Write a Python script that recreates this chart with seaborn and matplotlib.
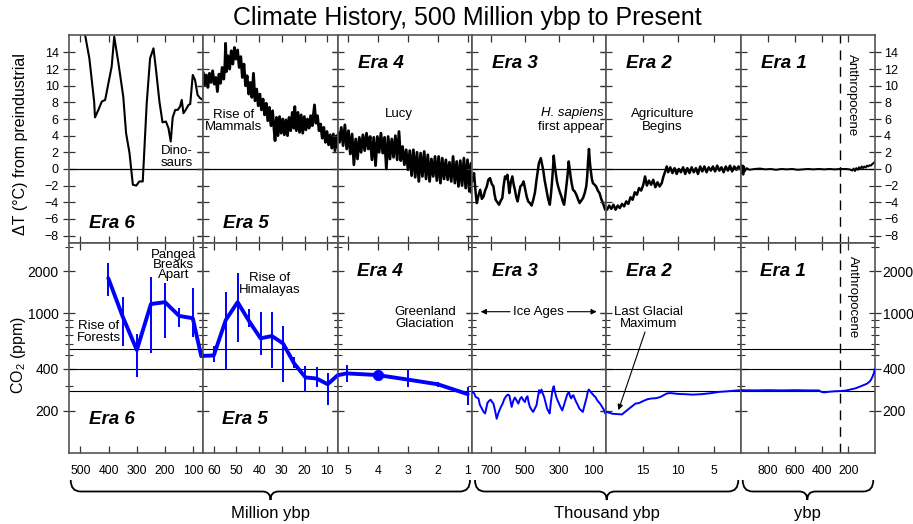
import numpy as np
import pandas as pd
import matplotlib
matplotlib.use("Agg")
import matplotlib.pyplot as plt
import seaborn as sns
from matplotlib.path import Path
from matplotlib.patches import PathPatch
from matplotlib.ticker import NullFormatter

# ---------------------------
# Temperature (deg C from preindustrial), one series per era
# ---------------------------
era6_t_x = [495, 483, 468, 451, 448, 436, 424, 412, 404, 389, 380, 365, 348, 338, 326, 314, 302, 291,
            279, 265, 253, 241, 232, 220, 209, 197, 188, 180, 173, 164, 155, 147, 141, 135, 127, 117,
            111, 102, 94, 85, 76, 66]
era6_t_y = [17.0, 16.1, 13.3, 8.1, 6.2, 7.1, 8.1, 8.3, 9.7, 12.3, 15.9, 12.7, 8.7, 4.3, 1.95, -1.9, -2.0,
            -1.5, -1.5, 7.9, 13.3, 14.5, 11.9, 8.1, 5.6, 5.7, 4.9, 3.3, 6.2, 7.1, 7.1, 7.5, 8.3, 6.7,
            7.1, 7.7, 7.8, 11.3, 10.7, 8.9, 8.5, 8.3]

era5_t_x = [64.6, 64.0, 63.3, 62.6, 61.9, 61.2, 60.5, 59.8, 59.1, 58.4, 57.7, 57.0, 56.3, 55.6, 55.1,
            54.8, 54.4, 53.7, 53.0, 52.3, 51.6, 50.9, 50.2, 49.5, 48.8, 48.1, 47.4, 46.7, 46.0, 45.3,
            44.6, 43.9, 43.2, 42.5, 41.8, 41.1, 40.4, 39.7, 39.0, 38.3, 37.6, 36.9, 36.2, 35.5, 34.8,
            34.1, 33.4, 33.0, 32.4, 31.7, 31.0, 30.3, 29.6, 28.9, 28.2, 27.5, 26.8, 26.1, 25.4, 24.7,
            24.3, 23.6, 22.9, 22.2, 21.5, 20.8, 20.1, 19.4, 18.7, 18.0, 17.3, 16.6, 15.9, 15.6, 15.0,
            14.3, 13.6, 12.9, 12.2, 11.5, 10.8, 10.1, 9.4, 8.7, 8.0, 7.3, 6.6, 5.9, 5.5]
era5_t_y = [11.6, 10.1, 11.3, 9.8, 11.5, 10.4, 11.8, 10.2, 11.0, 9.3, 11.4, 10.3, 12.2, 10.8, 12.5,
            15.1, 11.7, 13.6, 12.0, 14.2, 12.6, 14.6, 13.2, 14.3, 12.2, 13.5, 11.0, 12.6, 10.0, 11.2,
            9.0, 10.4, 8.6, 11.5, 8.2, 9.6, 7.6, 9.0, 7.1, 8.4, 6.5, 7.9, 5.8, 7.4, 5.2,
            7.0, 4.6, 3.4, 6.2, 4.0, 6.3, 4.3, 6.0, 4.1, 5.9, 4.0, 6.2, 4.6, 6.8, 4.9,
            7.5, 4.6, 6.8, 4.4, 6.5, 4.3, 6.3, 4.7, 6.0, 4.9, 6.4, 5.2, 7.0, 7.7, 5.5,
            6.4, 4.6, 5.4, 3.7, 5.0, 3.2, 4.5, 2.9, 4.1, 2.5, 4.2, 2.2, 4.0, 2.6]

era4_t_x = [5.33, 5.27, 5.21, 5.15, 5.09, 5.03, 4.97, 4.91, 4.85, 4.79, 4.73, 4.67, 4.61, 4.55, 4.49,
            4.43, 4.37, 4.31, 4.25, 4.19, 4.13, 4.07, 4.01, 3.95, 3.89, 3.83, 3.77, 3.71, 3.65, 3.59,
            3.53, 3.47, 3.41, 3.35, 3.29, 3.23, 3.17, 3.11, 3.05, 2.99, 2.93, 2.87, 2.81, 2.75, 2.69,
            2.63, 2.57, 2.51, 2.45, 2.39, 2.33, 2.27, 2.21, 2.15, 2.09, 2.03, 1.97, 1.91, 1.85, 1.79,
            1.73, 1.67, 1.61, 1.55, 1.49, 1.43, 1.37, 1.31, 1.25, 1.19, 1.13, 1.07, 1.01, 0.95, 0.89, 0.87]
era4_t_y = [4.5, 3.2, 5.0, 2.8, 5.3, 2.4, 4.6, 1.8, 4.2, 0.5, 3.6, 1.2, 3.8, 2.0, 4.1,
            2.2, 4.3, 2.4, 3.9, 1.1, 3.8, 0.4, 3.9, 2.0, 4.3, 1.9, 3.8, 0.0, 3.9, 1.2,
            3.6, 1.4, 4.0, 1.1, 4.5, 1.0, 2.7, 0.5, 2.3, -0.1, 2.2, -0.8, 2.3, -1.0, 2.0,
            -1.5, 1.9, -0.9, 2.1, -1.2, 1.7, -1.5, 1.2, -0.9, 1.5, -1.4, 1.5, -1.7, 1.3, -1.2,
            1.1, -1.3, 0.8, -1.5, 1.5, -1.7, 0.9, -2.1, 1.0, -2.0, 1.3, -2.3, 1.1, -2.7, 0.7, -2.9]

era3_t_x = [810, 800, 790, 784, 774, 764, 754, 744, 735, 725, 716, 706, 696, 686, 680, 673, 663, 653,
            643, 634, 626, 618, 611, 604, 598, 593, 584, 575, 567, 560, 552, 544, 536, 528, 518, 509,
            500, 491, 482, 472, 462, 452, 442, 433, 426, 419, 408, 401, 394, 385, 375, 365, 355, 348,
            341, 336, 332, 326, 320, 313, 306, 296, 287, 279, 271, 264, 258, 251, 244, 238, 233, 226,
            219, 209, 199, 190, 180, 170, 160, 150, 141, 135, 131, 125, 120, 115, 108, 102, 92, 83,
            73, 63, 53, 43, 36, 30, 24]
era3_t_y = [-1.5, -0.5, -3.0, -4.1, -3.2, -2.5, -3.6, -3.3, -2.6, -2.1, -1.3, -1.1, -1.8, -2.1, -3.0,
            -3.7, -4.0, -4.3, -3.8, -3.5, -2.0, -0.9, -1.2, -0.7, -1.8, -2.9, -1.6, -0.9, -1.9, -2.5,
            -3.4, -3.9, -3.0, -2.1, -1.9, -1.5, -2.4, -3.3, -3.9, -4.1, -4.4, -3.7, -2.8, -1.3, -0.3,
            0.7, 1.3, 0.6, -0.1, -1.4, -2.5, -3.6, -4.3, -3.0, -1.3, 0.2, 1.6, 0.4, -0.5, -1.5, -2.1,
            -2.8, -3.3, -3.9, -4.3, -3.2, -2.1, -0.8, 0.9, 0.0, -0.9, -1.8, -2.5, -2.7, -3.1, -3.6,
            -4.1, -3.8, -3.5, -2.9, -2.1, -0.8, 0.7, 2.4, 0.9, -0.1, -1.2, -1.7, -1.9, -2.1, -2.6,
            -2.9, -3.6, -4.1, -4.5, -4.9, -4.6]

era2_t_x = [20.0, 19.7, 19.4, 19.1, 18.8, 18.5, 18.2, 17.9, 17.6, 17.3, 17.0, 16.7, 16.4, 16.1, 15.8,
            15.5, 15.2, 14.9, 14.65, 14.4, 14.1, 13.8, 13.5, 13.2, 12.9, 12.6, 12.3, 12.1, 11.9, 11.6,
            11.4, 11.1, 10.8, 10.5, 10.2, 9.9, 9.6, 9.3, 9.0, 8.7, 8.4, 8.1, 7.8, 7.5, 7.2, 6.9, 6.6,
            6.3, 6.0, 5.7, 5.4, 5.1, 4.8, 4.5, 4.2, 3.9, 3.6, 3.3, 3.0, 2.7, 2.4, 2.1, 1.8, 1.5, 1.2]
era2_t_y = [-4.9, -4.4, -4.8, -4.3, -4.9, -4.4, -4.7, -4.2, -4.5, -3.9, -4.2, -3.4, -3.7, -2.8, -3.1,
            -2.3, -2.6, -1.9, -0.9, -2.0, -1.4, -1.9, -1.3, -2.2, -1.6, -2.1, -1.7, -1.0, -0.5, 0.3,
            -0.4, 0.2, -0.5, 0.1, -0.6, 0.0, -0.4, 0.2, -0.6, 0.1, -0.5, 0.2, -0.4, 0.1, -0.6, 0.3, -0.3,
            0.3, -0.4, 0.2, -0.2, 0.3, -0.3, 0.4, -0.2, 0.2, -0.4, 0.3, -0.2, 0.4, -0.3, 0.3, -0.1, 0.3, 0.0]

era1_t_x = [1000, 995, 990, 985, 980, 975, 960, 940, 900, 860, 820, 780, 740, 700, 660, 620, 580, 540,
            500, 460, 420, 380, 340, 300, 260, 220, 190, 170, 160, 150, 140, 130, 120, 110, 100, 90,
            80, 70, 60, 50, 40, 30, 20, 10, 0]
era1_t_y = [0.5, -0.6, 0.4, -0.7, 0.3, -0.3, 0.1, -0.1, 0.0, 0.05, -0.05, 0.0, -0.1, 0.0, -0.05, 0.0,
            -0.1, -0.05, 0.0, -0.05, 0.0, -0.05, 0.0, -0.05, 0.0, 0.0, -0.05, -0.2, 0.05, -0.25, 0.1,
            -0.1, 0.2, 0.0, 0.3, 0.1, 0.3, 0.15, 0.4, 0.3, 0.45, 0.4, 0.6, 0.7, 0.9]

# ---------------------------
# CO2 (ppm)
# ---------------------------
era6_co2_x = [401, 350, 300, 250, 200, 150, 102, 72, 64.6]
era6_co2_y = [1790, 950, 547, 1170, 1205, 960, 925, 495, 497]
era6_err_x = [401, 350, 300, 250, 200, 150, 102]
era6_err_lo = [1336, 584, 351, 523, 663, 796, 681]
era6_err_hi = [2296, 1321, 710, 1824, 1667, 1091, 1535]

era5_co2_x = [64.6, 60.0, 54.7, 49.5, 44.3, 39.4, 34.4, 29.5, 24.6, 19.6, 14.7, 9.8, 5.4]
era5_co2_y = [497, 500, 899, 1205, 874, 664, 689, 611, 439, 348, 342, 311, 361]
era5_err_x = [60.0, 54.7, 49.5, 44.3, 39.4, 34.4, 29.5, 24.6, 19.6, 14.7, 9.8]
era5_err_lo = [451, 392, 627, 795, 503, 404, 323, 404, 274, 298, 220]
era5_err_hi = [584, 1435, 1950, 1083, 1030, 1030, 813, 489, 419, 415, 372]

era4_co2_x = [5.33, 5.03, 4.0, 3.0, 2.0, 1.0]
era4_co2_y = [361, 372, 362, 336, 311, 264]
era4_err_x = [5.03, 3.0, 2.0, 1.0]
era4_err_lo = [323, 298, 298, 220]
era4_err_hi = [427, 392, 324, 298]
era4_dot_x = [4.0]
era4_dot_y = [362]

era3_co2_x = [810, 799, 790, 774, 766, 754, 745, 735, 721, 712, 702, 694, 686, 676, 667, 659, 651, 642,
              632, 622, 612, 602, 593, 586, 579, 570, 560, 550, 540, 530, 521, 511, 501, 494, 486, 479,
              472, 462, 453, 443, 433, 425, 418, 411, 404, 396, 388, 380, 371, 363, 356, 349, 342, 337,
              332, 324, 317, 309, 301, 291, 282, 272, 263, 253, 243, 236, 229, 222, 216, 208, 200, 190,
              181, 171, 161, 150, 138, 132, 126, 117, 107, 97, 87, 78, 68, 58, 48, 38, 29, 24]
era3_co2_y = [275, 267, 252, 246, 222, 208, 198, 192, 229, 236, 241, 232, 226, 200, 176, 190, 202, 214,
              226, 244, 255, 262, 259, 236, 214, 236, 250, 238, 226, 244, 252, 240, 232, 248, 255, 230,
              214, 204, 197, 208, 220, 252, 282, 270, 285, 266, 252, 230, 208, 199, 192, 230, 267, 290,
              301, 272, 252, 238, 226, 212, 202, 220, 239, 262, 274, 255, 246, 258, 259, 244, 232, 220,
              208, 202, 197, 222, 252, 275, 285, 276, 267, 258, 252, 240, 232, 224, 214, 205, 192, 190]

era2_co2_x = [20.1, 19.2, 17.9, 16.9, 16.0, 15.5, 14.9, 14.3, 13.7, 13.1, 12.5, 11.6, 11.1, 10.0, 9.0,
              8.0, 6.7, 5.5, 4.3, 3.0, 2.0, 1.2]
era2_co2_y = [197, 191, 189, 208, 226, 228, 236, 243, 246, 247, 252, 267, 269, 265, 264,
              262, 264, 268, 274, 277, 280, 282]

era1_co2_x = [1005, 900, 800, 700, 600, 500, 420, 400, 380, 340, 300, 260, 220, 200, 170, 140, 110,
              80, 60, 40, 30, 20, 10, 0]
era1_co2_y = [282, 281, 282, 281, 282, 281, 281, 274, 272, 275, 277, 278, 280, 283, 287, 292, 300,
              308, 314, 325, 335, 350, 370, 400]

# ---------------------------
# Axis setup per era
# ---------------------------
era_xlims = [(540, 64.6), (64.6, 5.4), (5.33, 0.86), (812, 23), (20.1, 1.2), (1005, 0)]
era_xticks = [[500, 400, 300, 200, 100], [60, 50, 40, 30, 20, 10], [5, 4, 3, 2, 1],
              [700, 500, 300, 100], [15, 10, 5], [800, 600, 400, 200]]
era_names = ["Era 6", "Era 5", "Era 4", "Era 3", "Era 2", "Era 1"]
temp_x = [era6_t_x, era5_t_x, era4_t_x, era3_t_x, era2_t_x, era1_t_x]
temp_y = [era6_t_y, era5_t_y, era4_t_y, era3_t_y, era2_t_y, era1_t_y]
temp_lw = [1.5, 2.0, 2.0, 1.8, 1.8, 1.4]
co2_x = [era6_co2_x, era5_co2_x, era4_co2_x, era3_co2_x, era2_co2_x, era1_co2_x]
co2_y = [era6_co2_y, era5_co2_y, era4_co2_y, era3_co2_y, era2_co2_y, era1_co2_y]
err_sets = [(era6_err_x, era6_err_lo, era6_err_hi), (era5_err_x, era5_err_lo, era5_err_hi),
            (era4_err_x, era4_err_lo, era4_err_hi), None, None, None]
co2_ref_lines = [280, 400, 560]
anthropocene_ybp = 265

sns.set_style("ticks")
plt.rcParams["font.family"] = ["Liberation Sans", "DejaVu Sans"]
plt.rcParams["mathtext.fontset"] = "custom"
plt.rcParams["mathtext.rm"] = "Liberation Sans"
plt.rcParams["text.color"] = "black"
plt.rcParams["xtick.labelcolor"] = "black"
plt.rcParams["ytick.labelcolor"] = "black"

W, H = 913, 524
fig, axes = plt.subplots(2, 6, figsize=(W / 100, H / 100), dpi=100,
                         gridspec_kw=dict(height_ratios=[208, 210], wspace=0, hspace=0,
                                          left=69 / W, right=875 / W, top=1 - 35 / H, bottom=1 - 453 / H))


def fx(x, y):
    return x / W, 1 - y / H


BLUE = "#0000ff"
for i in range(6):
    at, ac = axes[0, i], axes[1, i]

    # temperature
    sns.lineplot(x=temp_x[i], y=temp_y[i], ax=at, color="black", lw=temp_lw[i],
                 estimator=None, sort=False)
    at.axhline(0, color="black", lw=0.9, zorder=1)
    at.set_ylim(-8.9, 16.1)
    at.set_yticks(range(-8, 15, 2))

    # CO2
    ac.set_yscale("log")
    thick = i < 3
    sns.lineplot(x=co2_x[i], y=co2_y[i], ax=ac, color=BLUE, lw=2.8 if thick else 1.4,
                 estimator=None, sort=False, zorder=3)
    if err_sets[i] is not None:
        ex, lo, hi = err_sets[i]
        ac.vlines(ex, lo, hi, color=BLUE, lw=1.4, zorder=3)
    for v in co2_ref_lines:
        ac.axhline(v, color="black", lw=0.8, zorder=1)
    ac.set_ylim(100, 3200)
    ac.set_yticks([200, 400, 1000, 2000])
    ac.set_yticklabels(["200", "400", "1000", "2000"])
    ac.set_yticks([300, 500, 600, 700, 800, 900, 3000], minor=True)
    ac.yaxis.set_minor_formatter(NullFormatter())

    for r, ax in enumerate((at, ac)):
        ax.set_xlim(*era_xlims[i])
        ax.set_xticks(era_xticks[i])
        ax.set_xticklabels([str(v) for v in era_xticks[i]])
        ax.set_xlabel("")
        ax.set_ylabel("")
        ax.tick_params(axis="x", which="both", direction="in", top=True, bottom=True, length=5,
                       width=0.9, color="#333333", labelbottom=(r == 1), labelsize=8.8, pad=9)
        ax.tick_params(axis="y", which="major", direction="inout", left=True, right=True, length=9,
                       width=0.9, color="#333333", labelleft=False, labelright=False)
        ax.tick_params(axis="y", which="minor", direction="inout", left=True, right=True, length=6,
                       width=0.8, color="#333333")
        for sp in ax.spines.values():
            sp.set_color("#555555")
            sp.set_linewidth(1.2)
        if ax.get_legend():
            ax.get_legend().remove()

    if i == 5:
        for ax in (at, ac):
            ax.axvline(anthropocene_ybp, color="black", lw=1.0, ls=(0, (7, 5)), zorder=2)

sns.scatterplot(x=era4_dot_x, y=era4_dot_y, ax=axes[1, 2], color=BLUE, s=55, edgecolor=BLUE, zorder=4)

axes[0, 0].tick_params(axis="y", labelleft=True, labelsize=9, pad=3)
axes[0, 5].tick_params(axis="y", labelright=True, labelsize=9, pad=2)
axes[1, 0].tick_params(axis="y", labelleft=True, labelsize=10, pad=3)
axes[1, 5].tick_params(axis="y", labelright=True, labelsize=10, pad=1)

# ---------------------------
# Text
# ---------------------------
fig.text(*fx(467, 18), "Climate History, 500 Million ybp to Present", ha="center", va="center", fontsize=18)
fig.text(*fx(20, 144), "ΔT (°C) from preindustrial", rotation=90, ha="center", va="center", fontsize=11.5)
fig.text(*fx(18, 355), "CO$_2$ (ppm)", rotation=90, ha="center", va="center", fontsize=11.5)

era_pos_top = [(111.5, 223), (246, 223), (380.7, 63), (515, 63), (649, 63), (784, 63)]
era_pos_bot = [(111.7, 420), (245, 420), (380, 272), (515, 272), (649.3, 272), (783.3, 272)]
for name, p1, p2 in zip(era_names, era_pos_top, era_pos_bot):
    for p in (p1, p2):
        fig.text(*fx(*p), name, ha="center", va="center", fontsize=13.5, fontweight="bold", style="italic")

ann = dict(ha="center", va="center", fontsize=9.5)
fig.text(*fx(233.5, 121), "Rise of\nMammals", linespacing=0.95, **ann)
fig.text(*fx(176.3, 156.5), "Dino-\nsaurs", linespacing=1.0, **ann)
fig.text(*fx(399.3, 114), "Lucy", **ann)
fig.text(*fx(603.5, 113.3), "H. sapiens", ha="right", va="center", fontsize=9.5, style="italic")
fig.text(*fx(603.5, 126.7), "first appear", ha="right", va="center", fontsize=9.5)
fig.text(*fx(662.3, 120.3), "Agriculture\nBegins", linespacing=1.05, **ann)
fig.text(*fx(851.7, 95), "Anthropocene", rotation=270, ha="center", va="center", fontsize=9.5)

fig.text(*fx(99, 331.7), "Rise of\nForests", linespacing=1.0, **ann)
fig.text(*fx(173.3, 265), "Pangea\nBreaks\nApart", linespacing=0.8, **ann)
fig.text(*fx(270, 284), "Rise of\nHimalayas", linespacing=1.0, **ann)
fig.text(*fx(425, 318.3), "Greenland\nGlaciation", linespacing=1.0, **ann)
fig.text(*fx(538.3, 311.7), "Ice Ages", **ann)
fig.text(*fx(648.3, 318.3), "Last Glacial\nMaximum", linespacing=1.0, **ann)
fig.text(*fx(853.3, 297.5), "Anthropocene", rotation=270, ha="center", va="center", fontsize=9.5)

arrow = dict(arrowstyle="-|>", color="black", lw=0.8, mutation_scale=8, shrinkA=0, shrinkB=0)
fig.add_artist(matplotlib.patches.FancyArrowPatch(fx(510, 311.7), fx(480.7, 311.7),
                                                  transform=fig.transFigure, **arrow))
fig.add_artist(matplotlib.patches.FancyArrowPatch(fx(567.3, 311.7), fx(596.7, 311.7),
                                                  transform=fig.transFigure, **arrow))
axes[1, 4].annotate("", xy=(18.4, 203), xycoords="data", xytext=fx(645, 332),
                    textcoords="figure fraction", arrowprops=arrow, annotation_clip=False)


# ---------------------------
# Braces under the x axis
# ---------------------------
def brace(x0, x1, xc, label):
    yt, ym, yp = 480, 491.5, 500
    r = 10
    verts = [fx(x0, yt), fx(x0, ym), fx(x0 + r, ym), fx(xc - 8, ym), fx(xc, ym), fx(xc, yp),
             fx(xc, ym), fx(xc + 8, ym), fx(x1 - r, ym), fx(x1, ym), fx(x1, yt)]
    codes = [Path.MOVETO, Path.CURVE3, Path.CURVE3, Path.LINETO, Path.CURVE3, Path.CURVE3,
             Path.CURVE3, Path.CURVE3, Path.LINETO, Path.CURVE3, Path.CURVE3]
    fig.add_artist(PathPatch(Path(verts, codes), fill=False, lw=1.3, edgecolor="black",
                             transform=fig.transFigure))
    fig.text(*fx(xc, 513.5), label, ha="center", va="center", fontsize=12)


brace(70.7, 470, 270.5, "Million ybp")
brace(475, 738.3, 606.7, "Thousand ybp")
brace(742.7, 873.3, 807.3, "ybp")

fig.savefig("out.png", dpi=100)
